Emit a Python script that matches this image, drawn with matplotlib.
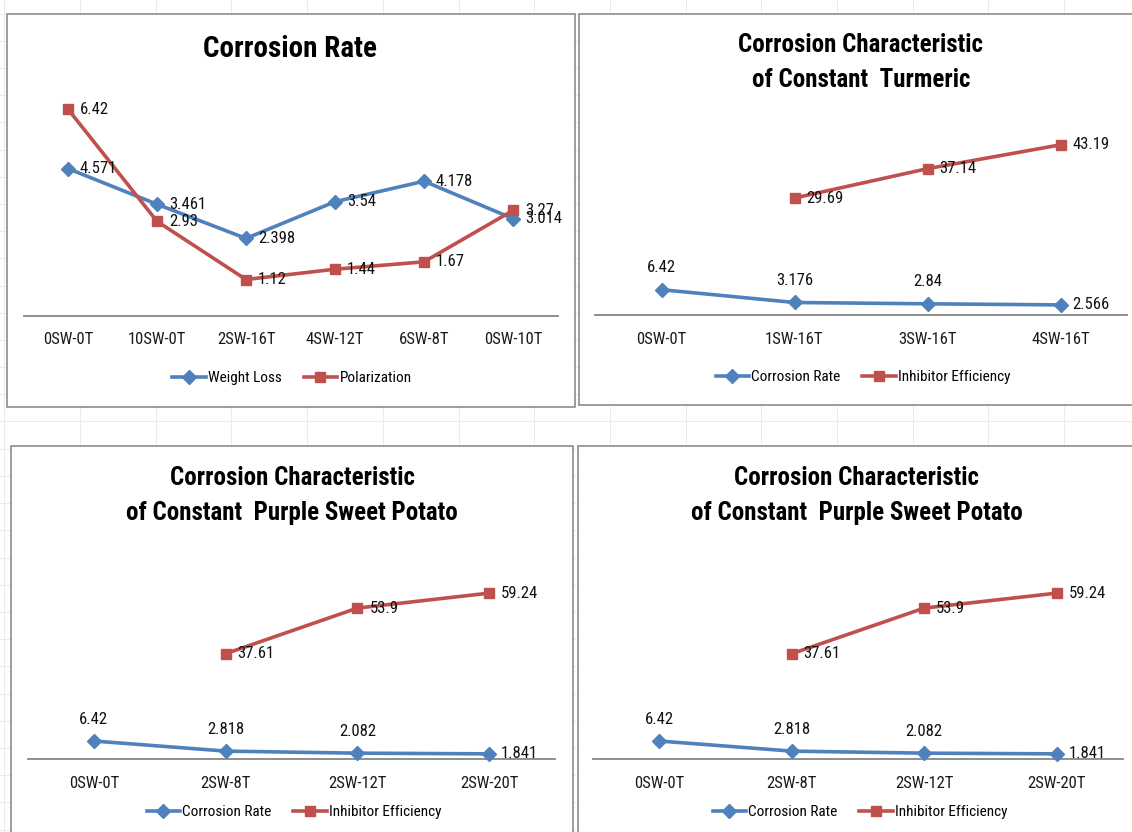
import numpy as np
import matplotlib
matplotlib.use("Agg")
import matplotlib.pyplot as plt
from matplotlib import font_manager as fm
from matplotlib.lines import Line2D
from matplotlib.patches import Rectangle

# ---------------- data ----------------
p1_categories = ['0SW-0T', '10SW-0T', '2SW-16T', '4SW-12T', '6SW-8T', '0SW-10T']
p1_weight_loss = [4.571, 3.461, 2.398, 3.54, 4.178, 3.014]
p1_polarization = [6.42, 2.93, 1.12, 1.44, 1.67, 3.27]

p2_categories = ['0SW-0T', '1SW-16T', '3SW-16T', '4SW-16T']
p2_corrosion = [6.42, 3.176, 2.84, 2.566]
p2_efficiency = [np.nan, 29.69, 37.14, 43.19]

p3_categories = ['0SW-0T', '2SW-8T', '2SW-12T', '2SW-20T']
p3_corrosion = [6.42, 2.818, 2.082, 1.841]
p3_efficiency = [np.nan, 37.61, 53.9, 59.24]

p4_categories = ['0SW-0T', '2SW-8T', '2SW-12T', '2SW-20T']
p4_corrosion = [6.42, 2.818, 2.082, 1.841]
p4_efficiency = [np.nan, 37.61, 53.9, 59.24]

# ---------------- style ----------------
names = {f.name for f in fm.fontManager.ttflist}
FONT = 'Lato'
for cand in ['Liberation Sans Narrow', 'Roboto Condensed', 'Open Sans Condensed', 'Lato']:
    if cand in names:
        FONT = cand
        break
plt.rcParams['font.family'] = [FONT, 'DejaVu Sans']

BLUE = '#4F81BD'
RED = '#C0504D'
AXIS = '#868686'
BORDER = '#8C8C8C'

W, H = 1132, 832
fig = plt.figure(figsize=(W / 100, H / 100), dpi=100)
fig.patch.set_facecolor('white')


def fx(x):
    return x / W


def fy(y):
    return 1 - y / H


# spreadsheet gridlines in background
for k in range(16):
    x = 4.3 + 75.7 * k
    fig.add_artist(Line2D([fx(x), fx(x)], [0, 1], color='#EBEBEB', lw=0.7, zorder=-3))
for k in range(31):
    y = 13.5 + 27.2 * k
    fig.add_artist(Line2D([0, 1], [fy(y), fy(y)], color='#EBEBEB', lw=0.7, zorder=-3))

# panel frames (x0, y0, x1, y1) in pixels
frames = [(7, 14, 575, 407), (579, 14, 1140, 405), (11, 446, 573, 840), (578, 446, 1140, 840)]
for x0, y0, x1, y1 in frames:
    fig.add_artist(Rectangle((fx(x0), fy(y1)), fx(x1 - x0), (y1 - y0) / H,
                             transform=fig.transFigure, facecolor='white',
                             edgecolor=BORDER, lw=1.2, zorder=-1))


def make_axes(x0, x1, ytop, ybot, cats, ymax):
    ax = fig.add_axes([fx(x0), fy(ybot), fx(x1 - x0), (ybot - ytop) / H])
    ax.set_facecolor('none')
    ax.set_xlim(-0.5, len(cats) - 0.5)
    ax.set_ylim(0, ymax)
    for s in ['top', 'right', 'left']:
        ax.spines[s].set_visible(False)
    ax.spines['bottom'].set_color(AXIS)
    ax.spines['bottom'].set_linewidth(1.3)
    ax.set_yticks([])
    ax.set_xticks(range(len(cats)))
    ax.set_xticklabels(cats, fontsize=12, color='#1A1A1A')
    ax.tick_params(axis='x', length=0, pad=12)
    return ax


def draw_series(ax, vals, color, marker, ms, label):
    ax.plot(range(len(vals)), vals, color=color, lw=2.6, marker=marker, ms=ms,
            label=label, clip_on=False, zorder=3)


LBL = 12


def label_right(ax, vals):
    for i, v in enumerate(vals):
        if np.isnan(v):
            continue
        ax.annotate(f'{v:g}', (i, v), xytext=(12, 0), textcoords='offset pixels',
                    ha='left', va='center', fontsize=LBL, color='#111111', zorder=4,
                    annotation_clip=False)


def label_above_then_right(ax, vals):
    n = len(vals)
    for i, v in enumerate(vals):
        if i < n - 1:
            ax.annotate(f'{v:g}', (i, v), xytext=(0, 22), textcoords='offset pixels',
                        ha='center', va='center', fontsize=LBL, color='#111111', zorder=4,
                        annotation_clip=False)
        else:
            ax.annotate(f'{v:g}', (i, v), xytext=(12, 0), textcoords='offset pixels',
                        ha='left', va='center', fontsize=LBL, color='#111111', zorder=4,
                        annotation_clip=False)


def add_legend(ax, cx, cy):
    ax.legend(loc='center', bbox_to_anchor=(fx(cx), fy(cy)), bbox_transform=fig.transFigure,
              ncol=2, frameon=False, fontsize=11, handlelength=2.2, handletextpad=0.15,
              columnspacing=1.4, borderaxespad=0)


TITLE_KW = dict(ha='center', va='center', fontsize=18, fontweight='bold', color='black')

# ---------------- panel 1 ----------------
ax1 = make_axes(23.5, 557.5, 90.5, 315.5, p1_categories, 7)
draw_series(ax1, p1_weight_loss, BLUE, 'D', 7.5, 'Weight Loss')
draw_series(ax1, p1_polarization, RED, 's', 7.5, 'Polarization')
label_right(ax1, p1_weight_loss)
label_right(ax1, p1_polarization)
add_legend(ax1, 292, 378)
fig.text(fx(290), fy(49), 'Corrosion Rate', **dict(TITLE_KW, fontsize=21))

# ---------------- panel 2 ----------------
ax2 = make_axes(595, 1127, 118, 315, p2_categories, 50)
draw_series(ax2, p2_corrosion, BLUE, 'D', 7.5, 'Corrosion Rate')
draw_series(ax2, p2_efficiency, RED, 's', 7.5, 'Inhibitor Efficiency')
label_above_then_right(ax2, p2_corrosion)
label_right(ax2, p2_efficiency)
add_legend(ax2, 863, 377)
fig.text(fx(861), fy(45), 'Corrosion Characteristic', **TITLE_KW)
fig.text(fx(861), fy(80), 'of Constant  Turmeric', **TITLE_KW)

# ---------------- panel 3 ----------------
ax3 = make_axes(28, 555, 563, 759, p3_categories, 70)
draw_series(ax3, p3_corrosion, BLUE, 'D', 7.5, 'Corrosion Rate')
draw_series(ax3, p3_efficiency, RED, 's', 7.5, 'Inhibitor Efficiency')
label_above_then_right(ax3, p3_corrosion)
label_right(ax3, p3_efficiency)
add_legend(ax3, 294, 812)
fig.text(fx(292), fy(478), 'Corrosion Characteristic', **TITLE_KW)
fig.text(fx(292), fy(513), 'of Constant  Purple Sweet Potato', **TITLE_KW)

# ---------------- panel 4 ----------------
ax4 = make_axes(593, 1123, 563, 759, p4_categories, 70)
draw_series(ax4, p4_corrosion, BLUE, 'D', 7.5, 'Corrosion Rate')
draw_series(ax4, p4_efficiency, RED, 's', 7.5, 'Inhibitor Efficiency')
label_above_then_right(ax4, p4_corrosion)
label_right(ax4, p4_efficiency)
add_legend(ax4, 860, 812)
fig.text(fx(857), fy(478), 'Corrosion Characteristic', **TITLE_KW)
fig.text(fx(857), fy(513), 'of Constant  Purple Sweet Potato', **TITLE_KW)

fig.savefig('out.png', dpi=100, facecolor='white')
